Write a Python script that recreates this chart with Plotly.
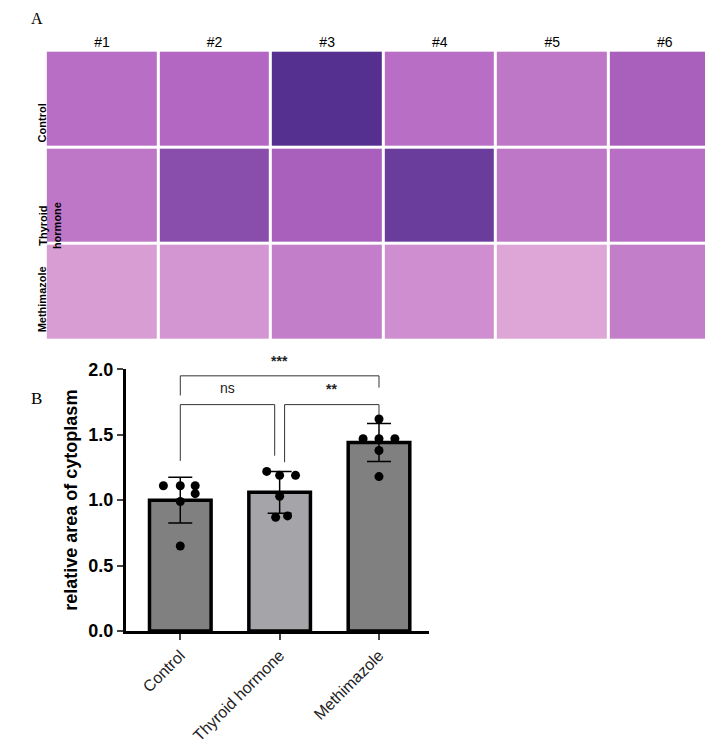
import plotly.graph_objects as go
import numpy as np

groups = ["Control", "Thyroid hormone", "Methimazole"]
means = [1.00, 1.06, 1.44]
sds = [0.175, 0.16, 0.145]
points = [
    [1.11, 1.11, 1.11, 1.05, 0.99, 0.65],
    [1.22, 1.19, 1.19, 1.03, 0.87, 0.88],
    [1.47, 1.62, 1.47, 1.47, 1.38, 1.18],
]
dot_dx = [-0.17, 0.0, 0.15, 0.15, 0.0, 0.0]
dot_dx2 = [-0.13, 0.0, 0.16, 0.0, -0.04, 0.08]
dot_dx3 = [-0.16, 0.0, 0.0, 0.16, 0.0, 0.0]
bar_colors = ["#808080", "#a5a5a9", "#808080"]

samples = ["#1", "#2", "#3", "#4", "#5", "#6"]
rows = ["Control", "Thyroid<br>hormone", "Methimazole"]
# staining darkness per tile (0 = pale pink, 1 = deep purple)
tone = [
    [0.45, 0.50, 0.95, 0.45, 0.40, 0.55],
    [0.40, 0.70, 0.55, 0.85, 0.40, 0.45],
    [0.15, 0.20, 0.35, 0.25, 0.10, 0.35],
]

fig = go.Figure()

# Panel A: tiles
fig.add_trace(go.Heatmap(
    z=tone[::-1], x=samples, y=list(range(3)), xgap=3, ygap=3,
    colorscale=[[0, "#e8b6dc"], [0.5, "#b366c2"], [1, "#4a2a8c"]],
    zmin=0, zmax=1, showscale=False, hoverinfo="skip", xaxis="x2", yaxis="y2"))

# Panel B: bars
xs = np.arange(3)
fig.add_trace(go.Bar(
    x=xs, y=means, width=0.62, marker=dict(color=bar_colors, line=dict(color="black", width=3.5)),
    error_y=dict(type="data", array=sds, color="black", thickness=1.5, width=12),
    showlegend=False))
for i, (pts, dx) in enumerate(zip(points, [dot_dx, dot_dx2, dot_dx3])):
    fig.add_trace(go.Scatter(
        x=[i + d for d in dx], y=pts, mode="markers",
        marker=dict(color="black", size=9), showlegend=False))

def bracket(x0, x1, y0l, y0r, ytop, text, ty):
    fig.add_trace(go.Scatter(x=[x0, x0, x1, x1], y=[y0l, ytop, ytop, y0r], mode="lines",
                             line=dict(color="#333", width=1), showlegend=False, hoverinfo="skip",
                             cliponaxis=False))
    fig.add_annotation(x=(x0 + x1) / 2, y=0.167 + 0.35 * ty / 2.0, text=text, showarrow=False,
                       xref="x", yref="paper",
                       font=dict(size=14, color="#222", family="Arial"))

bracket(0, 2, 1.80, 1.86, 1.95, "<b>***</b>", 2.06)
bracket(0, 0.95, 1.30, 1.34, 1.73, "ns", 1.86)
bracket(1.05, 2, 1.29, 1.65, 1.73, "<b>**</b>", 1.85)

fig.update_layout(
    width=713, height=748, margin=dict(l=0, r=0, t=0, b=0),
    plot_bgcolor="white", paper_bgcolor="white",
    font=dict(family="Arial", color="black"),
    xaxis=dict(domain=[0.165, 0.59], range=[-0.55, 2.5], tickvals=xs, ticktext=groups,
               tickangle=-45, showline=True, linecolor="black", linewidth=2.5,
               ticks="outside", tickwidth=2, ticklen=6, showgrid=False, zeroline=False,
               tickfont=dict(size=16, color="#222"), automargin=False),
    yaxis=dict(domain=[0.167, 0.517], range=[0, 2.0], dtick=0.5, tickformat=".1f",
               showline=True, linecolor="black", linewidth=2.5, ticks="outside",
               tickwidth=2, ticklen=6, showgrid=False, zeroline=False,
               tickprefix="<b>", ticksuffix="</b>", tickfont=dict(size=18), automargin=False,
               title=dict(text="<b>relative area of cytoplasm</b>", font=dict(size=18), standoff=6)),
    xaxis2=dict(domain=[0.053, 1.0], side="top", anchor="y2", showgrid=False, zeroline=False,
                tickfont=dict(size=14), ticks="", showline=False, automargin=False),
    yaxis2=dict(domain=[0.555, 0.943], anchor="x2", showticklabels=False, showgrid=False,
                zeroline=False, automargin=False),
)
for j, r in enumerate(rows):
    fig.add_annotation(x=0.037, y=0.875 - j * 0.132, xref="paper", yref="paper", text=f"<b>{r}</b>",
                       textangle=-90, showarrow=False, font=dict(size=11))
fig.add_annotation(x=0.03, y=1.0, xref="paper", yref="paper", text="A", showarrow=False,
                   xanchor="left", yanchor="top", font=dict(size=16, family="Liberation Serif"))
fig.add_annotation(x=0.03, y=0.478, xref="paper", yref="paper", text="B", showarrow=False,
                   xanchor="left", yanchor="middle", font=dict(size=17, family="Liberation Serif"))

fig.write_html("out.html")
